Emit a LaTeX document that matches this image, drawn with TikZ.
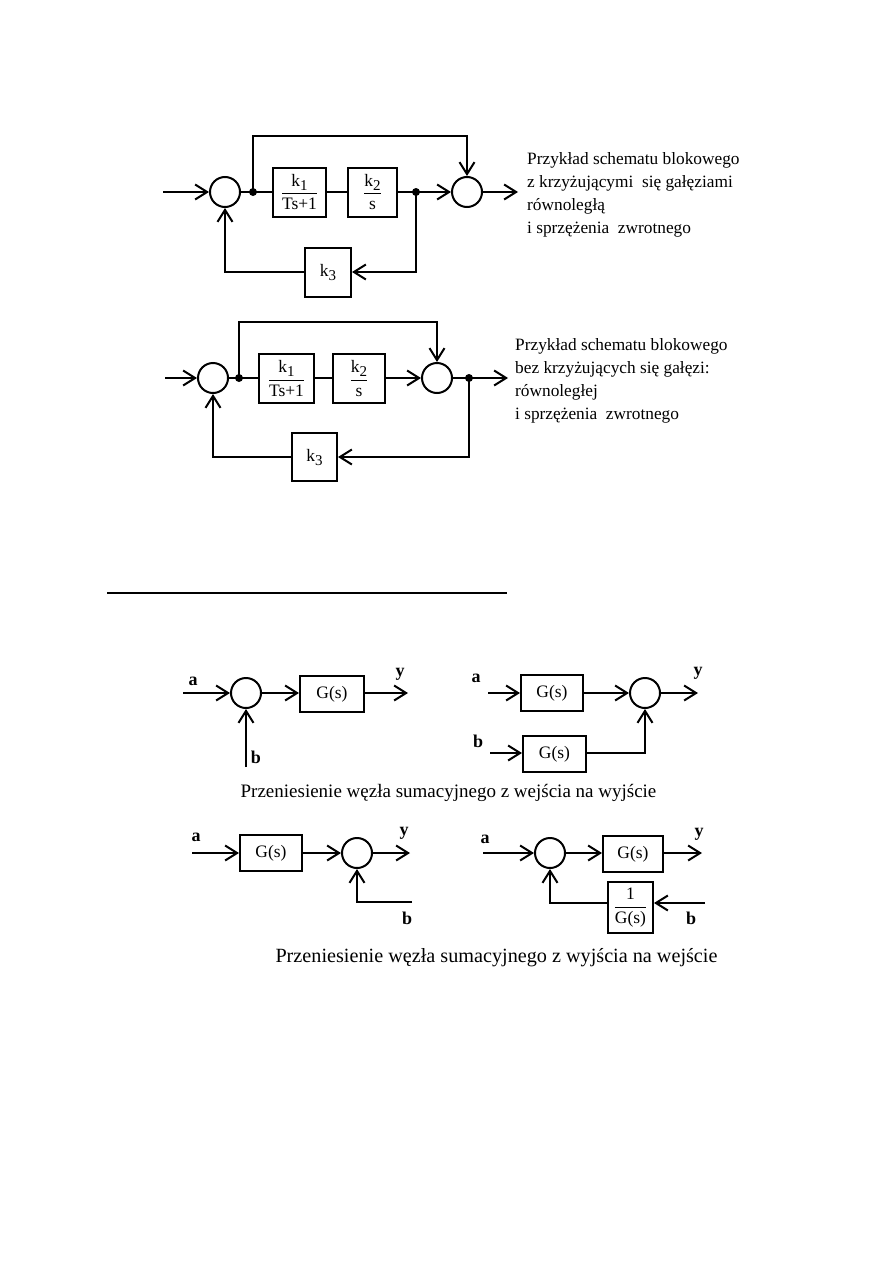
\documentclass[tikz,border=0pt]{standalone}
\usepackage{fontspec}
\setmainfont{Liberation Serif}
\usetikzlibrary{arrows.meta,calc}
\newcommand\frc[2]{$\displaystyle\frac{\mbox{#1}}{\mbox{#2}}$}
\newcommand\sbs[1]{\raisebox{-4pt}{\fontsize{15}{15}\selectfont #1}}
\begin{document}
\begin{tikzpicture}[x=1pt,y=-1pt,
  ln/.style={line width=2pt},
  arr/.style={ln,-{Straight Barb[length=12pt,width=15pt,line width=2pt]}},
  sum/.style={circle,draw,line width=2pt,minimum size=30pt,inner sep=0pt},
  dot/.style={circle,fill,inner sep=0pt,minimum size=8pt},
  blk/.style={draw,line width=2pt,inner sep=0pt,font=\fontsize{17.5}{20}\selectfont},
  desc/.style={anchor=west,font=\fontsize{17.3}{23}\selectfont,align=left,inner sep=0pt},
  lab/.style={font=\bfseries\fontsize{18}{20}\selectfont,inner sep=0pt},
  captxt/.style={font=\fontsize{19}{20}\selectfont,inner sep=0pt},
  captxtb/.style={font=\fontsize{20.2}{22}\selectfont,inner sep=0pt}]
\useasboundingbox (0,0) rectangle (893,1263);

% ---------- diagram 1 ----------
\coordinate (in1) at (163,192);
\node[sum] (s1) at (225,192) {};
\node[dot] (d1) at (253,192) {};
\node[blk,minimum width=53pt,minimum height=49pt] (B1) at (299.5,192) {\frc{k\sbs{1}}{Ts+1}};
\node[blk,minimum width=49pt,minimum height=49pt] (B2) at (372.5,192) {\frc{k\sbs{2}}{s}};
\node[dot] (d2) at (416,192) {};
\node[sum] (s2) at (467,192) {};
\coordinate (out1) at (518,192);
\coordinate (t1) at (253,136);
\node[blk,minimum width=46pt,minimum height=49pt] (K1) at (328,272) {k\sbs{3}};
\draw[arr] (in1) -- (s1);
\draw[ln] (s1) -- (B1);
\draw[ln] (B1) -- (B2);
\draw[arr] (B2) -- (s2);
\draw[arr] (s2) -- (out1);
\draw[arr] (d1.center) -- (t1) -| (s2);
\draw[arr] (d2.center) |- (K1);
\draw[arr] (K1) -| (s1);
\node[desc] (T1) at (527,195) {Przykład schematu blokowego\\z krzyżującymi~ się gałęziami\\równoległą\\i sprzężenia~ zwrotnego};

% ---------- diagram 2 ----------
\coordinate (in2) at (165,378);
\node[sum] (s3) at (213,378) {};
\node[dot] (d3) at (239,378) {};
\node[blk,minimum width=55pt,minimum height=49pt] (B3) at (286.5,378.5) {\frc{k\sbs{1}}{Ts+1}};
\node[blk,minimum width=52pt,minimum height=49pt] (B4) at (359,378.5) {\frc{k\sbs{2}}{s}};
\node[sum] (s4) at (437,378) {};
\node[dot] (d4) at (469,378) {};
\coordinate (out2) at (508,378);
\coordinate (t2) at (239,322);
\node[blk,minimum width=45pt,minimum height=48pt] (K2) at (314.5,457) {k\sbs{3}};
\draw[arr] (in2) -- (s3);
\draw[ln] (s3.east) -- (s3.east -| B3.west);
\draw[ln] (B3.east |- s3.east) -- (s3.east -| B4.west);
\draw[arr] (B4.east |- s4.west) -- (s4.west);
\draw[arr] (s4) -- (out2);
\draw[arr] (d3.center) -- (t2) -| (s4);
\draw[arr] (d4.center) |- (K2);
\draw[arr] (K2) -| (s3);
\node[desc] (T2) at (515,381) {Przykład schematu blokowego\\bez krzyżujących się gałęzi:\\równoległej\\i sprzężenia~ zwrotnego};

% ---------- rule ----------
\coordinate (r1) at (107,593);
\coordinate (r2) at (507,593);
\draw[line width=1.3pt] (r1) -- (r2);

% ---------- diagram 3 ----------
\coordinate (in3) at (183,693);
\node[sum] (s5) at (246,693) {};
\node[blk,minimum width=64pt,minimum height=36pt] (G1) at (332,694) {G(s)};
\coordinate (out3) at (408,693);
\coordinate (b3) at (246,767);
\draw[arr] (in3) -- (s5);
\draw[arr] (s5.east) -- (s5.east -| G1.west);
\draw[arr] (G1.east |- out3) -- (out3);
\draw[arr] (b3) -- (s5);
\node[lab] (a3) at (193,681) {a};
\node[lab] (y3) at (400,674) {y};
\node[lab] (bb3) at (256,757) {b};

% ---------- diagram 4 ----------
\coordinate (in4) at (488,693);
\node[blk,minimum width=62pt,minimum height=36pt] (G2) at (552,693) {G(s)};
\node[sum] (s6) at (645,693) {};
\coordinate (out4) at (698,693);
\coordinate (in4b) at (490,753);
\node[blk,minimum width=63pt,minimum height=36pt] (G3) at (554.5,754) {G(s)};
\draw[arr] (in4) -- (G2);
\draw[arr] (G2) -- (s6);
\draw[arr] (s6) -- (out4);
\draw[arr] (in4b) -- (in4b -| G3.west);
\draw[arr] (G3.east |- in4b) -| (s6);
\node[lab] (a4) at (476,678) {a};
\node[lab] (y4) at (698,673) {y};
\node[lab] (bb4) at (478,741) {b};

\node[captxt] (C1) at (448.5,793) {Przeniesienie węzła sumacyjnego z wejścia na wyjście};

% ---------- diagram 5 ----------
\coordinate (in5) at (192,853);
\node[blk,minimum width=62pt,minimum height=36pt] (G4) at (271,853) {G(s)};
\node[sum] (s7) at (357,853) {};
\coordinate (out5) at (410,853);
\coordinate (b5) at (412,902);
\draw[arr] (in5) -- (G4);
\draw[arr] (G4) -- (s7);
\draw[arr] (s7) -- (out5);
\draw[arr] (b5) -| (s7);
\node[lab] (a5) at (196,837) {a};
\node[lab] (y5) at (404,833) {y};
\node[lab] (bb5) at (407,918) {b};

% ---------- diagram 6 ----------
\coordinate (in6) at (483,853);
\node[sum] (s8) at (550,853) {};
\node[blk,minimum width=60pt,minimum height=36pt] (G5) at (633,854) {G(s)};
\coordinate (out6) at (702,853);
\node[blk,minimum width=45pt,minimum height=51pt] (G6) at (630.5,907.5) {\frc{1}{G(s)}};
\coordinate (b6) at (705,903);
\draw[arr] (in6) -- (s8);
\draw[arr] (s8.east) -- (s8.east -| G5.west);
\draw[arr] (G5.east |- out6) -- (out6);
\draw[arr] (b6) -- (b6 -| G6.east);
\draw[arr] (G6.west |- b6) -| (s8);
\node[lab] (a6) at (485,839) {a};
\node[lab] (y6) at (699,834) {y};
\node[lab] (bb6) at (691,918) {b};

\node[captxtb] (C2) at (496.5,958) {Przeniesienie węzła sumacyjnego z wyjścia na wejście};
\end{tikzpicture}
\end{document}
